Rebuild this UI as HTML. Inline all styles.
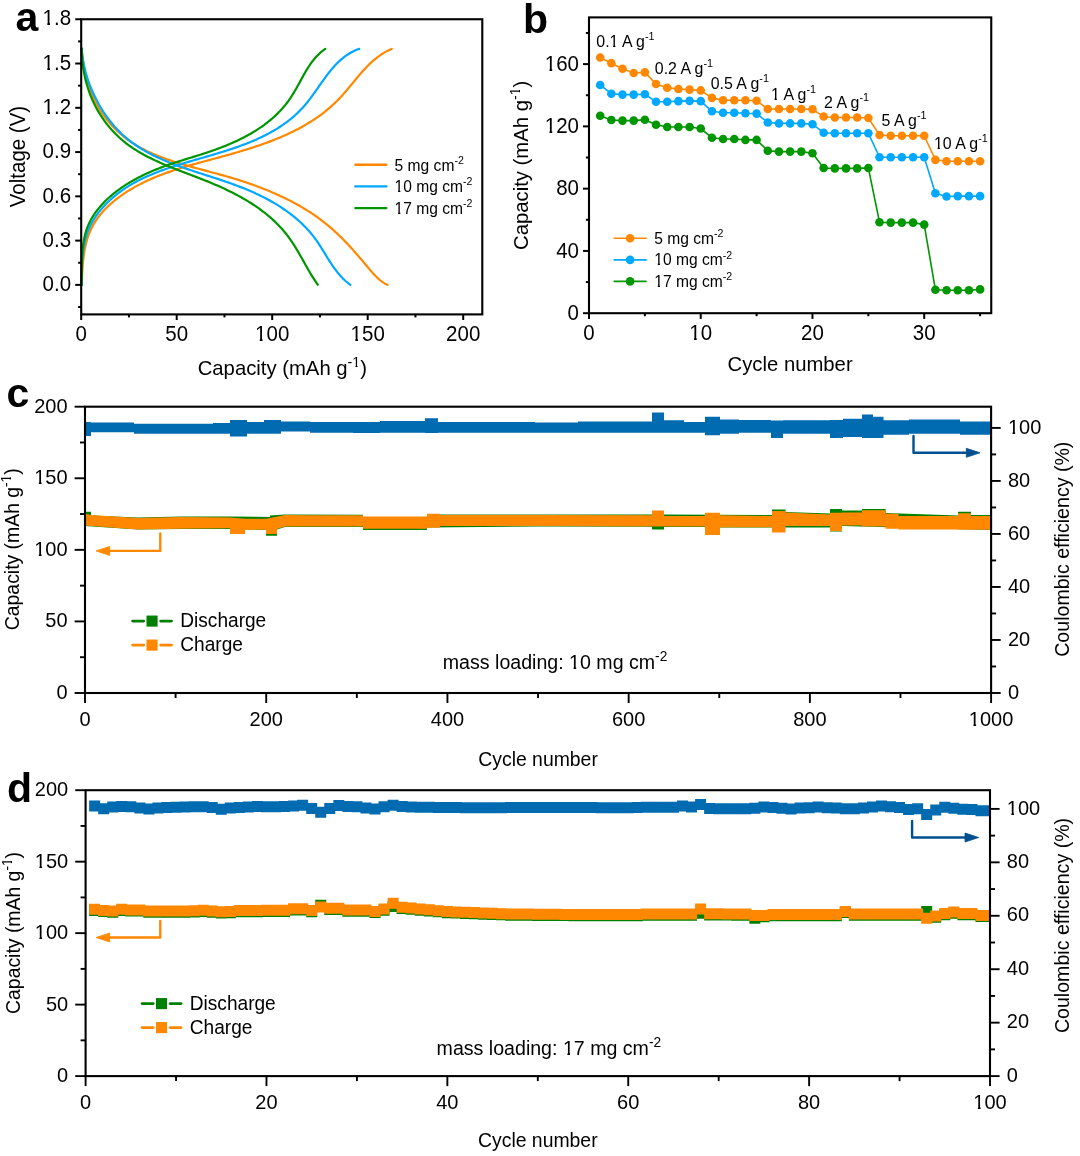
<!DOCTYPE html><html><head><meta charset="utf-8"><style>html,body{margin:0;padding:0;background:#fff;width:1080px;height:1156px;overflow:hidden}svg{display:block;will-change:transform}text{font-family:'Liberation Sans', sans-serif;fill:#000}</style></head><body>
<svg width="1080" height="1156" viewBox="0 0 1080 1156">
<rect width="1080" height="1156" fill="#fff"/>
<g id="pa">
<path d="M81.7 48.5 L81.88 50.61 L82.08 52.72 L82.3 54.82 L82.54 56.92 L82.81 59.01 L83.1 61.09 L83.41 63.17 L83.74 65.23 L84.1 67.29 L84.48 69.33 L84.89 71.37 L85.33 73.4 L85.8 75.41 L86.29 77.42 L86.81 79.41 L87.36 81.39 L87.94 83.35 L88.55 85.31 L89.19 87.24 L89.86 89.17 L90.57 91.08 L91.3 92.97 L92.08 94.85 L92.88 96.71 L93.72 98.56 L94.6 100.39 L95.51 102.2 L96.46 103.99 L97.44 105.76 L98.46 107.51 L99.51 109.25 L100.6 110.96 L101.72 112.65 L102.87 114.33 L104.05 115.98 L105.27 117.6 L106.51 119.21 L107.79 120.79 L109.1 122.35 L110.43 123.89 L111.8 125.4 L113.19 126.88 L114.61 128.34 L116.06 129.77 L117.54 131.18 L119.04 132.56 L120.57 133.91 L122.12 135.24 L123.7 136.53 L125.31 137.8 L126.94 139.04 L128.59 140.24 L130.26 141.42 L131.96 142.57 L133.68 143.68 L135.42 144.77 L137.18 145.83 L138.96 146.86 L140.75 147.86 L142.57 148.84 L144.4 149.79 L146.25 150.71 L148.12 151.62 L150 152.49 L151.89 153.35 L153.8 154.18 L155.72 155 L157.65 155.79 L159.59 156.56 L161.54 157.32 L163.51 158.05 L165.48 158.77 L167.46 159.47 L169.44 160.16 L171.44 160.83 L173.43 161.48 L175.44 162.13 L177.45 162.76 L179.46 163.38 L181.47 163.98 L183.48 164.58 L185.5 165.16 L187.52 165.74 L189.53 166.31 L191.55 166.87 L193.56 167.42 L195.57 167.97 L197.58 168.51 L199.58 169.05 L201.58 169.59 L203.57 170.12 L205.55 170.65 L207.53 171.17 L209.5 171.7 L211.46 172.23 L213.42 172.75 L215.38 173.28 L217.33 173.81 L219.28 174.35 L221.22 174.88 L223.16 175.42 L225.1 175.97 L227.03 176.52 L228.97 177.08 L230.91 177.65 L232.84 178.23 L234.78 178.81 L236.71 179.4 L238.65 180.01 L240.59 180.62 L242.54 181.25 L244.49 181.89 L246.43 182.54 L248.39 183.21 L250.34 183.88 L252.29 184.57 L254.24 185.27 L256.19 185.99 L258.15 186.71 L260.1 187.45 L262.04 188.21 L263.99 188.97 L265.93 189.75 L267.87 190.54 L269.81 191.35 L271.74 192.17 L273.67 193 L275.59 193.84 L277.51 194.7 L279.42 195.57 L281.32 196.46 L283.22 197.36 L285.11 198.27 L286.99 199.2 L288.87 200.14 L290.73 201.09 L292.59 202.06 L294.43 203.05 L296.26 204.04 L298.09 205.06 L299.9 206.08 L301.7 207.12 L303.49 208.18 L305.26 209.25 L307.02 210.34 L308.77 211.44 L310.5 212.55 L312.22 213.68 L313.93 214.83 L315.61 215.99 L317.29 217.16 L318.94 218.35 L320.58 219.56 L322.2 220.78 L323.8 222.02 L325.38 223.27 L326.95 224.54 L328.49 225.82 L330.03 227.12 L331.54 228.43 L333.04 229.76 L334.53 231.11 L336 232.47 L337.46 233.84 L338.91 235.23 L340.35 236.63 L341.77 238.05 L343.19 239.48 L344.6 240.92 L346 242.38 L347.4 243.85 L348.78 245.34 L350.17 246.84 L351.54 248.35 L352.92 249.88 L354.29 251.41 L355.66 252.97 L357.02 254.53 L358.39 256.11 L359.76 257.7 L361.12 259.3 L362.49 260.91 L363.86 262.54 L365.24 264.18 L366.62 265.83 L368 267.49 L369.4 269.14 L370.8 270.78 L372.21 272.39 L373.64 273.97 L375.08 275.5 L376.55 276.98 L378.03 278.39 L379.54 279.73 L381.07 280.98 L382.63 282.13 L384.21 283.17 L385.83 284.1 L387.49 284.9" fill="none" stroke="#FF8800" stroke-width="2.2" stroke-linejoin="round" stroke-linecap="round"/>
<path d="M81.7 284.91 L81.7 282.74 L81.76 280.57 L81.89 278.41 L82.01 276.24 L82.13 274.08 L82.27 271.92 L82.41 269.77 L82.56 267.62 L82.72 265.48 L82.9 263.35 L83.1 261.22 L83.33 259.11 L83.58 257 L83.85 254.91 L84.16 252.83 L84.5 250.77 L84.87 248.72 L85.29 246.69 L85.74 244.67 L86.23 242.67 L86.77 240.69 L87.35 238.73 L87.98 236.79 L88.66 234.88 L89.39 232.98 L90.16 231.11 L91 229.27 L91.88 227.45 L92.82 225.66 L93.82 223.9 L94.88 222.16 L95.99 220.45 L97.14 218.77 L98.35 217.12 L99.61 215.5 L100.91 213.9 L102.26 212.33 L103.65 210.79 L105.08 209.27 L106.54 207.79 L108.05 206.33 L109.58 204.89 L111.16 203.49 L112.76 202.11 L114.39 200.76 L116.05 199.43 L117.73 198.13 L119.44 196.86 L121.16 195.62 L122.91 194.4 L124.68 193.21 L126.46 192.04 L128.26 190.91 L130.07 189.79 L131.88 188.71 L133.71 187.65 L135.55 186.62 L137.39 185.61 L139.25 184.63 L141.11 183.67 L142.98 182.73 L144.85 181.81 L146.74 180.92 L148.63 180.05 L150.52 179.2 L152.43 178.37 L154.34 177.55 L156.26 176.76 L158.19 175.98 L160.12 175.22 L162.06 174.48 L164 173.75 L165.95 173.04 L167.9 172.34 L169.87 171.66 L171.83 170.99 L173.8 170.33 L175.78 169.68 L177.76 169.05 L179.75 168.42 L181.74 167.81 L183.73 167.2 L185.73 166.6 L187.74 166.01 L189.74 165.43 L191.75 164.85 L193.77 164.28 L195.78 163.72 L197.81 163.16 L199.83 162.6 L201.86 162.05 L203.89 161.49 L205.92 160.95 L207.95 160.4 L209.99 159.85 L212.03 159.3 L214.07 158.75 L216.11 158.2 L218.15 157.65 L220.2 157.09 L222.25 156.54 L224.29 155.97 L226.34 155.41 L228.39 154.83 L230.44 154.26 L232.49 153.67 L234.53 153.09 L236.58 152.49 L238.63 151.89 L240.67 151.28 L242.71 150.67 L244.75 150.05 L246.79 149.42 L248.82 148.78 L250.85 148.13 L252.87 147.48 L254.9 146.81 L256.91 146.14 L258.93 145.46 L260.93 144.76 L262.94 144.06 L264.93 143.34 L266.92 142.61 L268.91 141.87 L270.89 141.12 L272.86 140.36 L274.82 139.58 L276.77 138.79 L278.72 137.99 L280.66 137.17 L282.59 136.34 L284.51 135.5 L286.42 134.64 L288.32 133.76 L290.21 132.87 L292.09 131.97 L293.96 131.04 L295.82 130.1 L297.67 129.15 L299.5 128.17 L301.32 127.18 L303.13 126.17 L304.93 125.15 L306.72 124.1 L308.49 123.04 L310.24 121.95 L311.99 120.85 L313.71 119.72 L315.43 118.58 L317.13 117.41 L318.81 116.23 L320.47 115.02 L322.12 113.79 L323.76 112.54 L325.38 111.27 L326.97 109.97 L328.56 108.65 L330.12 107.3 L331.67 105.94 L333.19 104.55 L334.7 103.13 L336.19 101.69 L337.66 100.22 L339.11 98.73 L340.54 97.21 L341.95 95.67 L343.35 94.11 L344.73 92.53 L346.1 90.94 L347.46 89.34 L348.82 87.72 L350.16 86.1 L351.51 84.47 L352.85 82.84 L354.19 81.21 L355.54 79.59 L356.89 77.97 L358.24 76.35 L359.61 74.75 L360.98 73.16 L362.37 71.59 L363.77 70.04 L365.18 68.5 L366.62 66.99 L368.07 65.51 L369.55 64.05 L371.05 62.63 L372.58 61.23 L374.14 59.88 L375.72 58.56 L377.34 57.29 L378.99 56.06 L380.68 54.87 L382.41 53.74 L384.18 52.65 L385.99 51.62 L387.84 50.65 L389.74 49.74 L391.69 48.89" fill="none" stroke="#FF8800" stroke-width="2.2" stroke-linejoin="round" stroke-linecap="round"/>
<path d="M81.71 48.5 L81.82 50.31 L81.97 52.13 L82.15 53.95 L82.36 55.78 L82.61 57.62 L82.88 59.46 L83.19 61.31 L83.53 63.15 L83.89 65 L84.29 66.86 L84.72 68.71 L85.18 70.56 L85.67 72.41 L86.18 74.26 L86.73 76.11 L87.3 77.96 L87.9 79.8 L88.53 81.64 L89.19 83.47 L89.87 85.3 L90.59 87.12 L91.32 88.93 L92.09 90.73 L92.88 92.53 L93.69 94.32 L94.53 96.09 L95.4 97.86 L96.29 99.61 L97.2 101.35 L98.14 103.08 L99.1 104.79 L100.09 106.49 L101.1 108.17 L102.13 109.84 L103.18 111.49 L104.26 113.12 L105.36 114.73 L106.47 116.33 L107.61 117.9 L108.78 119.45 L109.96 120.99 L111.16 122.5 L112.38 123.98 L113.62 125.44 L114.88 126.88 L116.16 128.29 L117.46 129.68 L118.78 131.04 L120.11 132.37 L121.47 133.68 L122.84 134.95 L124.22 136.2 L125.63 137.42 L127.05 138.62 L128.48 139.79 L129.93 140.93 L131.4 142.05 L132.88 143.14 L134.38 144.21 L135.89 145.26 L137.42 146.28 L138.96 147.29 L140.52 148.27 L142.08 149.23 L143.66 150.17 L145.26 151.09 L146.86 151.99 L148.48 152.87 L150.11 153.74 L151.75 154.59 L153.4 155.42 L155.06 156.23 L156.73 157.03 L158.42 157.81 L160.11 158.58 L161.81 159.34 L163.52 160.08 L165.24 160.81 L166.97 161.52 L168.71 162.23 L170.46 162.92 L172.21 163.6 L173.97 164.28 L175.74 164.94 L177.51 165.6 L179.29 166.24 L181.08 166.88 L182.87 167.51 L184.66 168.14 L186.47 168.76 L188.27 169.37 L190.09 169.98 L191.9 170.58 L193.72 171.18 L195.54 171.78 L197.37 172.37 L199.2 172.97 L201.03 173.56 L202.87 174.15 L204.7 174.74 L206.54 175.33 L208.38 175.92 L210.22 176.51 L212.06 177.11 L213.9 177.71 L215.74 178.31 L217.58 178.91 L219.42 179.52 L221.26 180.13 L223.1 180.75 L224.94 181.37 L226.77 182 L228.61 182.64 L230.44 183.29 L232.26 183.94 L234.09 184.6 L235.91 185.28 L237.73 185.96 L239.54 186.65 L241.35 187.36 L243.15 188.07 L244.95 188.8 L246.75 189.54 L248.54 190.29 L250.32 191.05 L252.09 191.83 L253.86 192.62 L255.62 193.42 L257.37 194.24 L259.12 195.07 L260.85 195.91 L262.58 196.77 L264.29 197.64 L266 198.52 L267.69 199.42 L269.38 200.34 L271.05 201.27 L272.71 202.21 L274.36 203.17 L276 204.15 L277.63 205.14 L279.24 206.14 L280.84 207.17 L282.42 208.21 L283.99 209.26 L285.54 210.34 L287.08 211.43 L288.6 212.53 L290.11 213.66 L291.6 214.8 L293.07 215.96 L294.53 217.14 L295.96 218.34 L297.38 219.55 L298.78 220.78 L300.17 222.04 L301.53 223.31 L302.87 224.6 L304.19 225.91 L305.49 227.24 L306.77 228.59 L308.03 229.96 L309.27 231.35 L310.48 232.76 L311.68 234.19 L312.84 235.65 L313.99 237.12 L315.11 238.62 L316.21 240.13 L317.28 241.67 L318.33 243.22 L319.37 244.79 L320.39 246.38 L321.4 247.97 L322.41 249.57 L323.4 251.18 L324.39 252.79 L325.38 254.41 L326.37 256.02 L327.36 257.64 L328.36 259.24 L329.37 260.84 L330.39 262.44 L331.42 264.02 L332.47 265.58 L333.54 267.13 L334.63 268.66 L335.75 270.18 L336.89 271.66 L338.07 273.13 L339.27 274.57 L340.51 275.97 L341.79 277.35 L343.11 278.69 L344.47 280 L345.87 281.27 L347.33 282.5 L348.83 283.68 L350.39 284.82" fill="none" stroke="#00A8FF" stroke-width="2.2" stroke-linejoin="round" stroke-linecap="round"/>
<path d="M81.7 284.91 L81.7 282.86 L81.7 280.81 L81.7 278.77 L81.7 276.73 L81.7 274.69 L81.75 272.66 L81.79 270.64 L81.85 268.62 L81.92 266.61 L82 264.6 L82.09 262.6 L82.21 260.61 L82.34 258.63 L82.5 256.66 L82.68 254.7 L82.89 252.75 L83.13 250.81 L83.41 248.88 L83.71 246.96 L84.06 245.06 L84.44 243.17 L84.86 241.29 L85.32 239.42 L85.82 237.57 L86.37 235.74 L86.96 233.92 L87.6 232.12 L88.28 230.33 L89.01 228.56 L89.8 226.81 L90.63 225.08 L91.52 223.37 L92.46 221.67 L93.45 220 L94.48 218.35 L95.55 216.72 L96.67 215.1 L97.83 213.52 L99.03 211.95 L100.26 210.41 L101.54 208.89 L102.84 207.39 L104.18 205.92 L105.54 204.48 L106.93 203.06 L108.36 201.67 L109.8 200.3 L111.27 198.97 L112.76 197.66 L114.26 196.38 L115.79 195.12 L117.33 193.9 L118.88 192.71 L120.45 191.54 L122.04 190.41 L123.64 189.29 L125.25 188.21 L126.88 187.15 L128.53 186.12 L130.18 185.11 L131.85 184.12 L133.53 183.16 L135.22 182.22 L136.93 181.3 L138.64 180.4 L140.37 179.53 L142.11 178.67 L143.86 177.83 L145.62 177.02 L147.39 176.21 L149.17 175.43 L150.96 174.67 L152.76 173.92 L154.57 173.18 L156.38 172.46 L158.21 171.76 L160.04 171.06 L161.88 170.38 L163.73 169.72 L165.58 169.06 L167.45 168.42 L169.31 167.79 L171.19 167.16 L173.07 166.55 L174.95 165.94 L176.84 165.34 L178.74 164.75 L180.64 164.17 L182.54 163.59 L184.45 163.02 L186.36 162.45 L188.27 161.89 L190.19 161.33 L192.11 160.77 L194.03 160.21 L195.96 159.66 L197.88 159.11 L199.81 158.55 L201.74 158 L203.67 157.45 L205.6 156.89 L207.53 156.33 L209.46 155.77 L211.39 155.21 L213.32 154.64 L215.24 154.07 L217.17 153.49 L219.09 152.91 L221.01 152.32 L222.93 151.72 L224.85 151.12 L226.76 150.51 L228.67 149.9 L230.57 149.27 L232.47 148.64 L234.36 147.99 L236.25 147.34 L238.13 146.68 L240 146 L241.87 145.32 L243.73 144.62 L245.58 143.91 L247.43 143.19 L249.26 142.46 L251.09 141.71 L252.91 140.95 L254.72 140.18 L256.52 139.39 L258.3 138.58 L260.08 137.76 L261.85 136.92 L263.6 136.07 L265.34 135.2 L267.07 134.31 L268.79 133.4 L270.49 132.47 L272.18 131.53 L273.85 130.57 L275.52 129.58 L277.16 128.58 L278.79 127.55 L280.41 126.51 L282.01 125.44 L283.59 124.35 L285.15 123.23 L286.7 122.1 L288.23 120.94 L289.74 119.75 L291.24 118.54 L292.71 117.31 L294.17 116.05 L295.6 114.76 L297.02 113.45 L298.41 112.11 L299.78 110.74 L301.14 109.35 L302.47 107.92 L303.78 106.47 L305.06 104.99 L306.33 103.48 L307.57 101.94 L308.8 100.39 L310.01 98.81 L311.21 97.21 L312.4 95.6 L313.57 93.97 L314.74 92.34 L315.9 90.69 L317.06 89.04 L318.22 87.39 L319.37 85.74 L320.53 84.08 L321.69 82.43 L322.85 80.79 L324.03 79.16 L325.21 77.53 L326.4 75.92 L327.6 74.33 L328.82 72.76 L330.06 71.2 L331.31 69.67 L332.59 68.17 L333.88 66.69 L335.2 65.25 L336.55 63.83 L337.92 62.46 L339.33 61.12 L340.76 59.82 L342.23 58.56 L343.74 57.35 L345.28 56.19 L346.86 55.08 L348.49 54.01 L350.15 53.01 L351.86 52.06 L353.62 51.17 L355.43 50.35 L357.29 49.59 L359.2 48.89" fill="none" stroke="#00A8FF" stroke-width="2.2" stroke-linejoin="round" stroke-linecap="round"/>
<path d="M81.7 48.5 L81.73 50.27 L81.78 52.05 L81.85 53.83 L81.94 55.61 L82.05 57.39 L82.19 59.17 L82.35 60.95 L82.54 62.73 L82.75 64.5 L82.98 66.28 L83.23 68.06 L83.51 69.83 L83.82 71.6 L84.14 73.36 L84.49 75.12 L84.87 76.88 L85.27 78.63 L85.69 80.38 L86.14 82.12 L86.62 83.85 L87.11 85.58 L87.64 87.3 L88.19 89.01 L88.76 90.72 L89.36 92.41 L89.98 94.1 L90.64 95.77 L91.31 97.44 L92.01 99.09 L92.74 100.74 L93.5 102.37 L94.28 103.99 L95.08 105.6 L95.92 107.19 L96.77 108.77 L97.65 110.34 L98.55 111.89 L99.48 113.42 L100.43 114.94 L101.41 116.45 L102.4 117.94 L103.42 119.41 L104.46 120.86 L105.52 122.3 L106.6 123.72 L107.7 125.12 L108.83 126.5 L109.97 127.86 L111.13 129.19 L112.32 130.51 L113.52 131.81 L114.74 133.09 L115.97 134.34 L117.23 135.57 L118.5 136.78 L119.79 137.96 L121.1 139.12 L122.42 140.26 L123.76 141.37 L125.12 142.46 L126.49 143.53 L127.87 144.57 L129.27 145.6 L130.68 146.61 L132.11 147.59 L133.55 148.56 L135.01 149.5 L136.47 150.43 L137.95 151.34 L139.45 152.24 L140.95 153.12 L142.47 153.98 L143.99 154.82 L145.53 155.66 L147.08 156.47 L148.64 157.28 L150.2 158.07 L151.78 158.84 L153.37 159.61 L154.96 160.37 L156.56 161.11 L158.17 161.84 L159.79 162.57 L161.42 163.28 L163.05 163.99 L164.69 164.68 L166.34 165.37 L167.99 166.06 L169.65 166.73 L171.31 167.4 L172.97 168.07 L174.65 168.73 L176.32 169.39 L178 170.04 L179.68 170.69 L181.37 171.34 L183.06 171.99 L184.75 172.63 L186.44 173.27 L188.14 173.92 L189.83 174.56 L191.53 175.21 L193.23 175.85 L194.93 176.5 L196.62 177.15 L198.32 177.8 L200.02 178.46 L201.72 179.12 L203.41 179.79 L205.1 180.46 L206.79 181.14 L208.48 181.83 L210.16 182.52 L211.85 183.22 L213.52 183.92 L215.2 184.64 L216.87 185.36 L218.54 186.09 L220.2 186.83 L221.85 187.58 L223.5 188.34 L225.15 189.11 L226.79 189.89 L228.42 190.67 L230.04 191.47 L231.66 192.28 L233.27 193.09 L234.87 193.92 L236.47 194.76 L238.06 195.6 L239.63 196.46 L241.2 197.33 L242.76 198.21 L244.31 199.11 L245.85 200.01 L247.38 200.93 L248.9 201.85 L250.41 202.8 L251.91 203.75 L253.39 204.71 L254.87 205.69 L256.33 206.68 L257.78 207.69 L259.21 208.71 L260.64 209.74 L262.04 210.79 L263.44 211.85 L264.82 212.92 L266.19 214.01 L267.54 215.11 L268.88 216.23 L270.2 217.36 L271.5 218.51 L272.79 219.67 L274.07 220.85 L275.32 222.04 L276.56 223.26 L277.78 224.48 L278.99 225.72 L280.18 226.98 L281.34 228.26 L282.49 229.55 L283.62 230.86 L284.73 232.19 L285.83 233.53 L286.9 234.9 L287.95 236.28 L288.98 237.67 L289.99 239.09 L290.99 240.52 L291.97 241.96 L292.94 243.42 L293.89 244.89 L294.83 246.37 L295.75 247.86 L296.67 249.37 L297.57 250.88 L298.47 252.4 L299.36 253.93 L300.24 255.46 L301.12 257 L301.99 258.55 L302.86 260.1 L303.73 261.65 L304.6 263.21 L305.47 264.76 L306.35 266.32 L307.23 267.88 L308.12 269.43 L309.02 270.99 L309.93 272.54 L310.85 274.08 L311.78 275.62 L312.73 277.16 L313.7 278.69 L314.69 280.21 L315.7 281.73 L316.73 283.23 L317.78 284.72" fill="none" stroke="#009600" stroke-width="2.2" stroke-linejoin="round" stroke-linecap="round"/>
<path d="M81.7 284.9 L81.7 283.08 L81.7 281.24 L81.7 279.39 L81.74 277.54 L81.77 275.68 L81.8 273.81 L81.82 271.93 L81.83 270.06 L81.85 268.18 L81.87 266.29 L81.9 264.41 L81.93 262.52 L81.97 260.64 L82.03 258.75 L82.1 256.87 L82.2 255 L82.31 253.13 L82.44 251.26 L82.6 249.4 L82.79 247.55 L83 245.71 L83.25 243.88 L83.53 242.05 L83.85 240.24 L84.2 238.45 L84.59 236.66 L85.01 234.9 L85.48 233.14 L85.99 231.41 L86.55 229.69 L87.15 227.99 L87.8 226.31 L88.5 224.66 L89.25 223.02 L90.05 221.4 L90.89 219.81 L91.78 218.24 L92.71 216.69 L93.68 215.16 L94.69 213.65 L95.74 212.17 L96.82 210.7 L97.94 209.26 L99.1 207.84 L100.28 206.45 L101.5 205.07 L102.74 203.72 L104.01 202.39 L105.31 201.09 L106.63 199.8 L107.97 198.54 L109.33 197.3 L110.71 196.09 L112.11 194.89 L113.53 193.72 L114.96 192.58 L116.4 191.45 L117.86 190.35 L119.33 189.27 L120.82 188.21 L122.32 187.17 L123.83 186.16 L125.35 185.16 L126.89 184.18 L128.44 183.22 L130 182.28 L131.57 181.35 L133.16 180.44 L134.75 179.55 L136.36 178.68 L137.97 177.82 L139.6 176.98 L141.23 176.16 L142.88 175.34 L144.53 174.55 L146.19 173.77 L147.86 173 L149.54 172.25 L151.23 171.51 L152.92 170.79 L154.62 170.08 L156.33 169.38 L158.04 168.69 L159.77 168.02 L161.49 167.36 L163.22 166.71 L164.96 166.08 L166.71 165.45 L168.45 164.84 L170.21 164.23 L171.96 163.64 L173.72 163.05 L175.49 162.47 L177.26 161.9 L179.03 161.33 L180.8 160.77 L182.58 160.21 L184.35 159.66 L186.13 159.1 L187.91 158.55 L189.7 158 L191.48 157.45 L193.26 156.9 L195.05 156.35 L196.83 155.8 L198.61 155.24 L200.4 154.68 L202.18 154.11 L203.96 153.53 L205.74 152.95 L207.52 152.36 L209.29 151.77 L211.07 151.16 L212.84 150.54 L214.6 149.92 L216.37 149.28 L218.12 148.63 L219.88 147.97 L221.63 147.3 L223.37 146.62 L225.11 145.93 L226.84 145.22 L228.57 144.51 L230.29 143.78 L232 143.03 L233.7 142.27 L235.4 141.5 L237.08 140.72 L238.76 139.92 L240.43 139.11 L242.08 138.28 L243.73 137.44 L245.37 136.59 L246.99 135.71 L248.6 134.83 L250.2 133.92 L251.79 133 L253.36 132.06 L254.92 131.11 L256.47 130.14 L258 129.15 L259.52 128.15 L261.03 127.13 L262.51 126.08 L263.98 125.03 L265.44 123.95 L266.88 122.85 L268.3 121.73 L269.7 120.6 L271.08 119.44 L272.45 118.27 L273.79 117.07 L275.12 115.85 L276.43 114.62 L277.72 113.36 L278.98 112.08 L280.23 110.78 L281.45 109.45 L282.65 108.11 L283.83 106.74 L284.99 105.35 L286.12 103.94 L287.23 102.5 L288.31 101.04 L289.37 99.55 L290.41 98.04 L291.42 96.51 L292.4 94.96 L293.37 93.39 L294.32 91.8 L295.26 90.19 L296.18 88.58 L297.1 86.95 L298 85.32 L298.9 83.68 L299.8 82.04 L300.7 80.4 L301.59 78.76 L302.5 77.12 L303.41 75.49 L304.33 73.87 L305.26 72.26 L306.21 70.67 L307.17 69.09 L308.15 67.53 L309.16 65.99 L310.18 64.47 L311.24 62.98 L312.32 61.51 L313.44 60.07 L314.59 58.67 L315.77 57.3 L317 55.97 L318.26 54.68 L319.57 53.43 L320.93 52.22 L322.33 51.06 L323.78 49.95 L325.29 48.89" fill="none" stroke="#009600" stroke-width="2.2" stroke-linejoin="round" stroke-linecap="round"/>
<rect x="81.2" y="19.25" width="401.1" height="295.15" fill="none" stroke="#000" stroke-width="2.1"/>
<line x1="81.2" y1="314.4" x2="81.2" y2="320" stroke="#000" stroke-width="2" stroke-linecap="butt"/>
<g transform="translate(81.2 340.6) scale(1 1.04)"><text font-size="20.5" text-anchor="middle">0</text></g>
<line x1="128.95" y1="314.4" x2="128.95" y2="317.4" stroke="#000" stroke-width="2" stroke-linecap="butt"/>
<line x1="176.7" y1="314.4" x2="176.7" y2="320" stroke="#000" stroke-width="2" stroke-linecap="butt"/>
<g transform="translate(176.7 340.6) scale(1 1.04)"><text font-size="20.5" text-anchor="middle">50</text></g>
<line x1="224.45" y1="314.4" x2="224.45" y2="317.4" stroke="#000" stroke-width="2" stroke-linecap="butt"/>
<line x1="272.2" y1="314.4" x2="272.2" y2="320" stroke="#000" stroke-width="2" stroke-linecap="butt"/>
<g transform="translate(272.2 340.6) scale(1 1.04)"><text font-size="20.5" text-anchor="middle">100</text><g fill="#fff"><rect x="-16.4" y="-2.53" width="4" height="3.23"/><rect x="-9.68" y="-2.53" width="3.94" height="3.23"/></g></g>
<line x1="319.95" y1="314.4" x2="319.95" y2="317.4" stroke="#000" stroke-width="2" stroke-linecap="butt"/>
<line x1="367.7" y1="314.4" x2="367.7" y2="320" stroke="#000" stroke-width="2" stroke-linecap="butt"/>
<g transform="translate(367.7 340.6) scale(1 1.04)"><text font-size="20.5" text-anchor="middle">150</text><g fill="#fff"><rect x="-16.4" y="-2.53" width="4" height="3.23"/><rect x="-9.68" y="-2.53" width="3.94" height="3.23"/></g></g>
<line x1="415.45" y1="314.4" x2="415.45" y2="317.4" stroke="#000" stroke-width="2" stroke-linecap="butt"/>
<line x1="463.2" y1="314.4" x2="463.2" y2="320" stroke="#000" stroke-width="2" stroke-linecap="butt"/>
<g transform="translate(463.2 340.6) scale(1 1.04)"><text font-size="20.5" text-anchor="middle">200</text></g>
<line x1="81.2" y1="307.02" x2="78.1" y2="307.02" stroke="#000" stroke-width="2" stroke-linecap="butt"/>
<line x1="81.2" y1="284.88" x2="75.2" y2="284.88" stroke="#000" stroke-width="2" stroke-linecap="butt"/>
<g transform="translate(71.1 291.08) scale(1 1.04)"><text font-size="20.5" text-anchor="end">0.0</text></g>
<line x1="81.2" y1="262.75" x2="78.1" y2="262.75" stroke="#000" stroke-width="2" stroke-linecap="butt"/>
<line x1="81.2" y1="240.61" x2="75.2" y2="240.61" stroke="#000" stroke-width="2" stroke-linecap="butt"/>
<g transform="translate(71.1 246.81) scale(1 1.04)"><text font-size="20.5" text-anchor="end">0.3</text></g>
<line x1="81.2" y1="218.48" x2="78.1" y2="218.48" stroke="#000" stroke-width="2" stroke-linecap="butt"/>
<line x1="81.2" y1="196.34" x2="75.2" y2="196.34" stroke="#000" stroke-width="2" stroke-linecap="butt"/>
<g transform="translate(71.1 202.54) scale(1 1.04)"><text font-size="20.5" text-anchor="end">0.6</text></g>
<line x1="81.2" y1="174.2" x2="78.1" y2="174.2" stroke="#000" stroke-width="2" stroke-linecap="butt"/>
<line x1="81.2" y1="152.07" x2="75.2" y2="152.07" stroke="#000" stroke-width="2" stroke-linecap="butt"/>
<g transform="translate(71.1 158.27) scale(1 1.04)"><text font-size="20.5" text-anchor="end">0.9</text></g>
<line x1="81.2" y1="129.93" x2="78.1" y2="129.93" stroke="#000" stroke-width="2" stroke-linecap="butt"/>
<line x1="81.2" y1="107.8" x2="75.2" y2="107.8" stroke="#000" stroke-width="2" stroke-linecap="butt"/>
<g transform="translate(71.1 114) scale(1 1.04)"><text font-size="20.5" text-anchor="end">1.2</text><g fill="#fff"><rect x="-27.8" y="-2.53" width="4" height="3.23"/><rect x="-21.09" y="-2.53" width="3.94" height="3.23"/></g></g>
<line x1="81.2" y1="85.66" x2="78.1" y2="85.66" stroke="#000" stroke-width="2" stroke-linecap="butt"/>
<line x1="81.2" y1="63.52" x2="75.2" y2="63.52" stroke="#000" stroke-width="2" stroke-linecap="butt"/>
<g transform="translate(71.1 69.72) scale(1 1.04)"><text font-size="20.5" text-anchor="end">1.5</text><g fill="#fff"><rect x="-27.8" y="-2.53" width="4" height="3.23"/><rect x="-21.09" y="-2.53" width="3.94" height="3.23"/></g></g>
<line x1="81.2" y1="41.39" x2="78.1" y2="41.39" stroke="#000" stroke-width="2" stroke-linecap="butt"/>
<line x1="81.2" y1="19.25" x2="75.2" y2="19.25" stroke="#000" stroke-width="2" stroke-linecap="butt"/>
<g transform="translate(71.1 25.45) scale(1 1.04)"><text font-size="20.5" text-anchor="end">1.8</text><g fill="#fff"><rect x="-27.8" y="-2.53" width="4" height="3.23"/><rect x="-21.09" y="-2.53" width="3.94" height="3.23"/></g></g>
<g transform="translate(24.9 156.5) rotate(-90) scale(1 1.04)"><text font-size="20.5" text-anchor="middle">Voltage (V)</text></g>
<g transform="translate(197.7 374.6) scale(1 1.04)"><text font-size="20.3" text-anchor="start">Capacity (mAh g<tspan font-size="14.2" dy="-7.6">-1</tspan><tspan dy="7.6">)</tspan></text><g fill="#fff"><rect x="154.88" y="-9.66" width="2.85" height="2.76"/><rect x="159.89" y="-9.66" width="2.82" height="2.76"/></g></g>
<g transform="translate(15.4 30.6) scale(1 1)"><text font-size="41" text-anchor="start" font-weight="bold">a</text></g>
<line x1="355.4" y1="164.7" x2="386.3" y2="164.7" stroke="#FF8800" stroke-width="2.4" stroke-linecap="round"/>
<g transform="translate(394.6 170.6) scale(1 1.04)"><text font-size="15.6" text-anchor="start">5 mg cm<tspan font-size="10.6" dy="-6.6">-2</tspan></text></g>
<line x1="355.4" y1="186.4" x2="386.3" y2="186.4" stroke="#00A8FF" stroke-width="2.4" stroke-linecap="round"/>
<g transform="translate(394.6 192.3) scale(1 1.04)"><text font-size="15.6" text-anchor="start">10 mg cm<tspan font-size="10.6" dy="-6.6">-2</tspan></text><g fill="#fff"><rect x="0.37" y="-2.17" width="3.11" height="2.87"/><rect x="5.75" y="-2.17" width="3.07" height="2.87"/></g></g>
<line x1="355.4" y1="208.1" x2="386.3" y2="208.1" stroke="#009600" stroke-width="2.4" stroke-linecap="round"/>
<g transform="translate(394.6 214) scale(1 1.04)"><text font-size="15.6" text-anchor="start">17 mg cm<tspan font-size="10.6" dy="-6.6">-2</tspan></text><g fill="#fff"><rect x="0.37" y="-2.17" width="3.11" height="2.87"/><rect x="5.75" y="-2.17" width="3.07" height="2.87"/></g></g>
</g>
<g id="pb">
<polyline points="600.17,115.79 611.35,120 622.52,120.62 633.69,120.62 644.87,119.68 656.04,124.82 667.22,127 678.39,127 689.56,127 700.74,128.56 711.91,137.74 723.08,138.99 734.26,138.99 745.43,139.92 756.6,139.92 767.78,150.82 778.95,151.6 790.12,151.6 801.3,151.6 812.47,153.31 823.65,167.95 834.82,168.41 845.99,168.41 857.17,168.41 868.34,167.95 879.51,222.28 890.69,222.59 901.86,222.59 913.03,222.59 924.21,224.62 935.38,289.69 946.56,290.31 957.73,290.31 968.9,290.31 980.08,289.38" fill="none" stroke="#009600" stroke-width="1.6"/>
<g fill="#009600"><circle cx="600.17" cy="115.79" r="4.3"/><circle cx="611.35" cy="120" r="4.3"/><circle cx="622.52" cy="120.62" r="4.3"/><circle cx="633.69" cy="120.62" r="4.3"/><circle cx="644.87" cy="119.68" r="4.3"/><circle cx="656.04" cy="124.82" r="4.3"/><circle cx="667.22" cy="127" r="4.3"/><circle cx="678.39" cy="127" r="4.3"/><circle cx="689.56" cy="127" r="4.3"/><circle cx="700.74" cy="128.56" r="4.3"/><circle cx="711.91" cy="137.74" r="4.3"/><circle cx="723.08" cy="138.99" r="4.3"/><circle cx="734.26" cy="138.99" r="4.3"/><circle cx="745.43" cy="139.92" r="4.3"/><circle cx="756.6" cy="139.92" r="4.3"/><circle cx="767.78" cy="150.82" r="4.3"/><circle cx="778.95" cy="151.6" r="4.3"/><circle cx="790.12" cy="151.6" r="4.3"/><circle cx="801.3" cy="151.6" r="4.3"/><circle cx="812.47" cy="153.31" r="4.3"/><circle cx="823.65" cy="167.95" r="4.3"/><circle cx="834.82" cy="168.41" r="4.3"/><circle cx="845.99" cy="168.41" r="4.3"/><circle cx="857.17" cy="168.41" r="4.3"/><circle cx="868.34" cy="167.95" r="4.3"/><circle cx="879.51" cy="222.28" r="4.3"/><circle cx="890.69" cy="222.59" r="4.3"/><circle cx="901.86" cy="222.59" r="4.3"/><circle cx="913.03" cy="222.59" r="4.3"/><circle cx="924.21" cy="224.62" r="4.3"/><circle cx="935.38" cy="289.69" r="4.3"/><circle cx="946.56" cy="290.31" r="4.3"/><circle cx="957.73" cy="290.31" r="4.3"/><circle cx="968.9" cy="290.31" r="4.3"/><circle cx="980.08" cy="289.38" r="4.3"/></g>
<polyline points="600.17,84.97 611.35,93.69 622.52,94.62 633.69,94.62 644.87,94.31 656.04,101.78 667.22,101.78 678.39,101.16 689.56,100.85 700.74,101.16 711.91,111.28 723.08,112.68 734.26,112.68 745.43,113.3 756.6,113.61 767.78,122.49 778.95,123.42 790.12,123.42 801.3,123.42 812.47,124.2 823.65,132.76 834.82,133.23 845.99,133.23 857.17,133.23 868.34,133.23 879.51,157.2 890.69,157.2 901.86,157.2 913.03,157.2 924.21,157.2 935.38,193.32 946.56,196.44 957.73,196.13 968.9,196.13 980.08,196.13" fill="none" stroke="#00A8FF" stroke-width="1.6"/>
<g fill="#00A8FF"><circle cx="600.17" cy="84.97" r="4.3"/><circle cx="611.35" cy="93.69" r="4.3"/><circle cx="622.52" cy="94.62" r="4.3"/><circle cx="633.69" cy="94.62" r="4.3"/><circle cx="644.87" cy="94.31" r="4.3"/><circle cx="656.04" cy="101.78" r="4.3"/><circle cx="667.22" cy="101.78" r="4.3"/><circle cx="678.39" cy="101.16" r="4.3"/><circle cx="689.56" cy="100.85" r="4.3"/><circle cx="700.74" cy="101.16" r="4.3"/><circle cx="711.91" cy="111.28" r="4.3"/><circle cx="723.08" cy="112.68" r="4.3"/><circle cx="734.26" cy="112.68" r="4.3"/><circle cx="745.43" cy="113.3" r="4.3"/><circle cx="756.6" cy="113.61" r="4.3"/><circle cx="767.78" cy="122.49" r="4.3"/><circle cx="778.95" cy="123.42" r="4.3"/><circle cx="790.12" cy="123.42" r="4.3"/><circle cx="801.3" cy="123.42" r="4.3"/><circle cx="812.47" cy="124.2" r="4.3"/><circle cx="823.65" cy="132.76" r="4.3"/><circle cx="834.82" cy="133.23" r="4.3"/><circle cx="845.99" cy="133.23" r="4.3"/><circle cx="857.17" cy="133.23" r="4.3"/><circle cx="868.34" cy="133.23" r="4.3"/><circle cx="879.51" cy="157.2" r="4.3"/><circle cx="890.69" cy="157.2" r="4.3"/><circle cx="901.86" cy="157.2" r="4.3"/><circle cx="913.03" cy="157.2" r="4.3"/><circle cx="924.21" cy="157.2" r="4.3"/><circle cx="935.38" cy="193.32" r="4.3"/><circle cx="946.56" cy="196.44" r="4.3"/><circle cx="957.73" cy="196.13" r="4.3"/><circle cx="968.9" cy="196.13" r="4.3"/><circle cx="980.08" cy="196.13" r="4.3"/></g>
<polyline points="600.17,57.57 611.35,63.17 622.52,68.78 633.69,72.98 644.87,72.36 656.04,84.03 667.22,87.77 678.39,89.01 689.56,89.64 700.74,90.42 711.91,97.89 723.08,100.22 734.26,100.22 745.43,100.22 756.6,100.69 767.78,108.94 778.95,108.94 790.12,108.94 801.3,108.94 812.47,109.25 823.65,116.57 834.82,117.5 845.99,117.5 857.17,117.5 868.34,117.97 879.51,134.94 890.69,135.72 901.86,135.72 913.03,135.72 924.21,135.72 935.38,159.85 946.56,161.25 957.73,161.25 968.9,161.25 980.08,161.25" fill="none" stroke="#FF8800" stroke-width="1.6"/>
<g fill="#FF8800"><circle cx="600.17" cy="57.57" r="4.3"/><circle cx="611.35" cy="63.17" r="4.3"/><circle cx="622.52" cy="68.78" r="4.3"/><circle cx="633.69" cy="72.98" r="4.3"/><circle cx="644.87" cy="72.36" r="4.3"/><circle cx="656.04" cy="84.03" r="4.3"/><circle cx="667.22" cy="87.77" r="4.3"/><circle cx="678.39" cy="89.01" r="4.3"/><circle cx="689.56" cy="89.64" r="4.3"/><circle cx="700.74" cy="90.42" r="4.3"/><circle cx="711.91" cy="97.89" r="4.3"/><circle cx="723.08" cy="100.22" r="4.3"/><circle cx="734.26" cy="100.22" r="4.3"/><circle cx="745.43" cy="100.22" r="4.3"/><circle cx="756.6" cy="100.69" r="4.3"/><circle cx="767.78" cy="108.94" r="4.3"/><circle cx="778.95" cy="108.94" r="4.3"/><circle cx="790.12" cy="108.94" r="4.3"/><circle cx="801.3" cy="108.94" r="4.3"/><circle cx="812.47" cy="109.25" r="4.3"/><circle cx="823.65" cy="116.57" r="4.3"/><circle cx="834.82" cy="117.5" r="4.3"/><circle cx="845.99" cy="117.5" r="4.3"/><circle cx="857.17" cy="117.5" r="4.3"/><circle cx="868.34" cy="117.97" r="4.3"/><circle cx="879.51" cy="134.94" r="4.3"/><circle cx="890.69" cy="135.72" r="4.3"/><circle cx="901.86" cy="135.72" r="4.3"/><circle cx="913.03" cy="135.72" r="4.3"/><circle cx="924.21" cy="135.72" r="4.3"/><circle cx="935.38" cy="159.85" r="4.3"/><circle cx="946.56" cy="161.25" r="4.3"/><circle cx="957.73" cy="161.25" r="4.3"/><circle cx="968.9" cy="161.25" r="4.3"/><circle cx="980.08" cy="161.25" r="4.3"/></g>
<rect x="589" y="17.4" width="402.25" height="295.8" fill="none" stroke="#000" stroke-width="2.1"/>
<line x1="589" y1="313.2" x2="589" y2="318.9" stroke="#000" stroke-width="2" stroke-linecap="butt"/>
<g transform="translate(589 339.9) scale(1 1.04)"><text font-size="20.5" text-anchor="middle">0</text></g>
<line x1="644.87" y1="313.2" x2="644.87" y2="316.2" stroke="#000" stroke-width="2" stroke-linecap="butt"/>
<line x1="700.74" y1="313.2" x2="700.74" y2="318.9" stroke="#000" stroke-width="2" stroke-linecap="butt"/>
<g transform="translate(700.74 339.9) scale(1 1.04)"><text font-size="20.5" text-anchor="middle">10</text><g fill="#fff"><rect x="-10.7" y="-2.53" width="4" height="3.23"/><rect x="-3.99" y="-2.53" width="3.94" height="3.23"/></g></g>
<line x1="756.6" y1="313.2" x2="756.6" y2="316.2" stroke="#000" stroke-width="2" stroke-linecap="butt"/>
<line x1="812.47" y1="313.2" x2="812.47" y2="318.9" stroke="#000" stroke-width="2" stroke-linecap="butt"/>
<g transform="translate(812.47 339.9) scale(1 1.04)"><text font-size="20.5" text-anchor="middle">20</text></g>
<line x1="868.34" y1="313.2" x2="868.34" y2="316.2" stroke="#000" stroke-width="2" stroke-linecap="butt"/>
<line x1="924.21" y1="313.2" x2="924.21" y2="318.9" stroke="#000" stroke-width="2" stroke-linecap="butt"/>
<g transform="translate(924.21 339.9) scale(1 1.04)"><text font-size="20.5" text-anchor="middle">30</text></g>
<line x1="980.08" y1="313.2" x2="980.08" y2="316.2" stroke="#000" stroke-width="2" stroke-linecap="butt"/>
<line x1="589" y1="313.2" x2="583" y2="313.2" stroke="#000" stroke-width="2" stroke-linecap="butt"/>
<g transform="translate(579 320) scale(1 1.04)"><text font-size="20.5" text-anchor="end">0</text></g>
<line x1="589" y1="282.06" x2="585.9" y2="282.06" stroke="#000" stroke-width="2" stroke-linecap="butt"/>
<line x1="589" y1="250.93" x2="583" y2="250.93" stroke="#000" stroke-width="2" stroke-linecap="butt"/>
<g transform="translate(579 257.73) scale(1 1.04)"><text font-size="20.5" text-anchor="end">40</text></g>
<line x1="589" y1="219.79" x2="585.9" y2="219.79" stroke="#000" stroke-width="2" stroke-linecap="butt"/>
<line x1="589" y1="188.65" x2="583" y2="188.65" stroke="#000" stroke-width="2" stroke-linecap="butt"/>
<g transform="translate(579 195.45) scale(1 1.04)"><text font-size="20.5" text-anchor="end">80</text></g>
<line x1="589" y1="157.52" x2="585.9" y2="157.52" stroke="#000" stroke-width="2" stroke-linecap="butt"/>
<line x1="589" y1="126.38" x2="583" y2="126.38" stroke="#000" stroke-width="2" stroke-linecap="butt"/>
<g transform="translate(579 133.18) scale(1 1.04)"><text font-size="20.5" text-anchor="end">120</text><g fill="#fff"><rect x="-33.5" y="-2.53" width="4" height="3.23"/><rect x="-26.78" y="-2.53" width="3.94" height="3.23"/></g></g>
<line x1="589" y1="95.24" x2="585.9" y2="95.24" stroke="#000" stroke-width="2" stroke-linecap="butt"/>
<line x1="589" y1="64.11" x2="583" y2="64.11" stroke="#000" stroke-width="2" stroke-linecap="butt"/>
<g transform="translate(579 70.91) scale(1 1.04)"><text font-size="20.5" text-anchor="end">160</text><g fill="#fff"><rect x="-33.5" y="-2.53" width="4" height="3.23"/><rect x="-26.78" y="-2.53" width="3.94" height="3.23"/></g></g>
<line x1="589" y1="32.97" x2="585.9" y2="32.97" stroke="#000" stroke-width="2" stroke-linecap="butt"/>
<g transform="translate(528 165.3) rotate(-90) scale(1 1.04)"><text font-size="20.3" text-anchor="middle">Capacity (mAh g<tspan font-size="14.2" dy="-7.6">-1</tspan><tspan dy="7.6">)</tspan></text><g fill="#fff"><rect x="70.25" y="-9.66" width="2.85" height="2.76"/><rect x="75.25" y="-9.66" width="2.82" height="2.76"/></g></g>
<g transform="translate(790.1 371) scale(1 1.04)"><text font-size="20.3" text-anchor="middle">Cycle number</text></g>
<g transform="translate(523.1 32.8) scale(1 1)"><text font-size="41" text-anchor="start" font-weight="bold">b</text></g>
<g transform="translate(596.3 47.2) scale(1 1.04)"><text font-size="15.9" text-anchor="start">0.1 A g<tspan font-size="10.8" dy="-6.8">-1</tspan></text><g fill="#fff"><rect x="13.63" y="-2.19" width="3.16" height="2.89"/><rect x="19.1" y="-2.19" width="3.13" height="2.89"/></g></g>
<g transform="translate(654.8 74.3) scale(1 1.04)"><text font-size="15.9" text-anchor="start">0.2 A g<tspan font-size="10.8" dy="-6.8">-1</tspan></text></g>
<g transform="translate(710.7 89.1) scale(1 1.04)"><text font-size="15.9" text-anchor="start">0.5 A g<tspan font-size="10.8" dy="-6.8">-1</tspan></text></g>
<g transform="translate(771 99.7) scale(1 1.04)"><text font-size="15.9" text-anchor="start">1 A g<tspan font-size="10.8" dy="-6.8">-1</tspan></text><g fill="#fff"><rect x="0.39" y="-2.19" width="3.16" height="2.89"/><rect x="5.85" y="-2.19" width="3.13" height="2.89"/></g></g>
<g transform="translate(824 107.9) scale(1 1.04)"><text font-size="15.9" text-anchor="start">2 A g<tspan font-size="10.8" dy="-6.8">-1</tspan></text></g>
<g transform="translate(881.6 125.6) scale(1 1.04)"><text font-size="15.9" text-anchor="start">5 A g<tspan font-size="10.8" dy="-6.8">-1</tspan></text></g>
<g transform="translate(934 149) scale(1 1.04)"><text font-size="15.9" text-anchor="start">10 A g<tspan font-size="10.8" dy="-6.8">-1</tspan></text><g fill="#fff"><rect x="0.39" y="-2.19" width="3.16" height="2.89"/><rect x="5.85" y="-2.19" width="3.13" height="2.89"/></g></g>
<line x1="613.6" y1="238.3" x2="646.7" y2="238.3" stroke="#FF8800" stroke-width="1.6" stroke-linecap="butt"/>
<circle cx="630.1" cy="238.3" r="4.3" fill="#FF8800"/>
<g transform="translate(654.3 243.9) scale(1 1.04)"><text font-size="15.6" text-anchor="start">5 mg cm<tspan font-size="10.6" dy="-6.6">-2</tspan></text></g>
<line x1="613.6" y1="259.85" x2="646.7" y2="259.85" stroke="#00A8FF" stroke-width="1.6" stroke-linecap="butt"/>
<circle cx="630.1" cy="259.85" r="4.3" fill="#00A8FF"/>
<g transform="translate(654.3 265.45) scale(1 1.04)"><text font-size="15.6" text-anchor="start">10 mg cm<tspan font-size="10.6" dy="-6.6">-2</tspan></text><g fill="#fff"><rect x="0.37" y="-2.17" width="3.11" height="2.87"/><rect x="5.75" y="-2.17" width="3.07" height="2.87"/></g></g>
<line x1="613.6" y1="281.4" x2="646.7" y2="281.4" stroke="#009600" stroke-width="1.6" stroke-linecap="butt"/>
<circle cx="630.1" cy="281.4" r="4.3" fill="#009600"/>
<g transform="translate(654.3 287) scale(1 1.04)"><text font-size="15.6" text-anchor="start">17 mg cm<tspan font-size="10.6" dy="-6.6">-2</tspan></text><g fill="#fff"><rect x="0.37" y="-2.17" width="3.11" height="2.87"/><rect x="5.75" y="-2.17" width="3.07" height="2.87"/></g></g>
</g>
<g>
<path d="M85 422 L91 422 L91 422.5 L134 422.5 L134 423.7 L213 423.7 L213 423.1 L230 423.1 L230 419.9 L247 419.9 L247 422 L264 422 L264 419.9 L281 419.9 L281 421.6 L310 421.6 L310 422 L353 422 L353 422 L380 422 L380 421 L425 421 L425 418.2 L438 418.2 L438 422 L535 422 L535 422.5 L578 422.5 L578 421.6 L652 421.6 L652 412.5 L664 412.5 L664 420.3 L684 420.3 L684 422 L705 422 L705 416.7 L720 416.7 L720 419.5 L739 419.5 L739 420 L771 420 L771 420.5 L783 420.5 L783 420.3 L830 420.3 L830 420 L843 420 L843 418.8 L862 418.8 L862 414.6 L873 414.6 L873 416.7 L883.5 416.7 L883.5 420.3 L909 420.3 L909 419.5 L960 419.5 L960 421.6 L991 421.6 L991 434.8 L960 434.8 L960 433.7 L909 433.7 L909 434.8 L883.5 434.8 L883.5 438 L873 438 L873 438 L862 438 L862 437 L843 437 L843 438 L830 438 L830 433.7 L783 433.7 L783 438 L771 438 L771 432.7 L739 432.7 L739 433.7 L720 433.7 L720 435.2 L705 435.2 L705 432.7 L684 432.7 L684 432.7 L664 432.7 L664 432.7 L652 432.7 L652 432.7 L578 432.7 L578 432.7 L535 432.7 L535 432.7 L438 432.7 L438 433.1 L425 433.1 L425 432.7 L380 432.7 L380 432.9 L353 432.9 L353 432.7 L310 432.7 L310 431.6 L281 431.6 L281 433.7 L264 433.7 L264 433.7 L247 433.7 L247 436.5 L230 436.5 L230 433.7 L213 433.7 L213 433.7 L134 433.7 L134 432.3 L91 432.3 L91 435.9 L85 435.9 Z" fill="#006BB0"/>
<path d="M85 511.7 L91 511.7 L91 515.5 L138 517.5 L181 516.6 L230 516.6 L270 517 L270 515.5 L285 514.5 L363 514.8 L363 517.2 L427 517.2 L427 514.5 L540 514.5 L664 514.5 L772 515 L772 509.6 L785.5 509.6 L785.5 512 L830 513.5 L830 509 L842 509 L842 510.6 L862 510.6 L862 509 L885.6 509 L885.6 513 L958 515.5 L958 511.7 L971 511.7 L971 515 L991 515 L991 529.9 L842 526 L842 531.5 L830 531.5 L830 527.5 L711 527.5 L711 531 L705 531 L705 527 L664 527 L664 529.4 L652 529.4 L652 526.8 L540 526.5 L427 527.5 L427 530 L363 530 L363 527 L285 527 L277 529.5 L277 535.8 L266 535.8 L266 530 L230 529 L181 529 L138 529.6 L85 526 Z" fill="#008000"/>
<path d="M85 513.8 L91 514.9 L138 518.1 L181 517 L230 517.5 L245 518.7 L266 518.7 L270 518 L285 514.9 L310 515.3 L363 515.3 L363 516.6 L427 516.6 L427 513.8 L440 513.8 L440 514.9 L540 515 L652 515.3 L652 510.6 L664 510.6 L664 516 L705 516 L705 512.8 L720 512.8 L720 515.3 L772 516 L772 511 L785.5 511 L785.5 512.4 L830 514.5 L830 512.8 L842 512.8 L842 512.4 L862 512.4 L862 510.2 L885.6 510.2 L885.6 513.8 L898.4 513.8 L898.4 516 L958 516 L958 513.2 L971 513.2 L971 516 L991 516 L991 529.8 L958 529.8 L958 529.4 L898.4 529.4 L898.4 528.7 L885.6 528.7 L885.6 526.6 L862 526.6 L862 525.6 L842 525.6 L842 530.9 L830 530.9 L830 526 L785.5 526 L785.5 532.4 L772 532.4 L772 527.3 L720 527.3 L720 535.1 L705 535.1 L705 526.6 L652 526.6 L540 526 L440 526 L440 527.7 L427 527.7 L427 528.7 L363 528.7 L363 526.6 L285 526.6 L277 529 L277 534 L266 534 L266 529.8 L245 529.8 L245 534 L230 534 L230 528.3 L181 528.7 L138 529.4 L91 526 L85 525.6 Z" fill="#FF8800"/>
<rect x="85" y="406.7" width="906.1" height="286.3" fill="none" stroke="#000" stroke-width="2.1"/>
<line x1="85" y1="693" x2="85" y2="703" stroke="#000" stroke-width="1.9" stroke-linecap="butt"/>
<g transform="translate(85 726.3) scale(1 1.04)"><text font-size="20" text-anchor="middle">0</text></g>
<line x1="175.61" y1="693" x2="175.61" y2="698" stroke="#000" stroke-width="1.9" stroke-linecap="butt"/>
<line x1="266.22" y1="693" x2="266.22" y2="703" stroke="#000" stroke-width="1.9" stroke-linecap="butt"/>
<g transform="translate(266.22 726.3) scale(1 1.04)"><text font-size="20" text-anchor="middle">200</text></g>
<line x1="356.83" y1="693" x2="356.83" y2="698" stroke="#000" stroke-width="1.9" stroke-linecap="butt"/>
<line x1="447.44" y1="693" x2="447.44" y2="703" stroke="#000" stroke-width="1.9" stroke-linecap="butt"/>
<g transform="translate(447.44 726.3) scale(1 1.04)"><text font-size="20" text-anchor="middle">400</text></g>
<line x1="538.05" y1="693" x2="538.05" y2="698" stroke="#000" stroke-width="1.9" stroke-linecap="butt"/>
<line x1="628.66" y1="693" x2="628.66" y2="703" stroke="#000" stroke-width="1.9" stroke-linecap="butt"/>
<g transform="translate(628.66 726.3) scale(1 1.04)"><text font-size="20" text-anchor="middle">600</text></g>
<line x1="719.27" y1="693" x2="719.27" y2="698" stroke="#000" stroke-width="1.9" stroke-linecap="butt"/>
<line x1="809.88" y1="693" x2="809.88" y2="703" stroke="#000" stroke-width="1.9" stroke-linecap="butt"/>
<g transform="translate(809.88 726.3) scale(1 1.04)"><text font-size="20" text-anchor="middle">800</text></g>
<line x1="900.49" y1="693" x2="900.49" y2="698" stroke="#000" stroke-width="1.9" stroke-linecap="butt"/>
<line x1="991.1" y1="693" x2="991.1" y2="703" stroke="#000" stroke-width="1.9" stroke-linecap="butt"/>
<g transform="translate(991.1 726.3) scale(1 1.04)"><text font-size="20" text-anchor="middle">1000</text><g fill="#fff"><rect x="-21.57" y="-2.49" width="3.91" height="3.19"/><rect x="-14.99" y="-2.49" width="3.85" height="3.19"/></g></g>
<line x1="85" y1="693" x2="74.6" y2="693" stroke="#000" stroke-width="1.9" stroke-linecap="butt"/>
<g transform="translate(67.6 699) scale(1 1.04)"><text font-size="20" text-anchor="end">0</text></g>
<line x1="85" y1="657.21" x2="80" y2="657.21" stroke="#000" stroke-width="1.9" stroke-linecap="butt"/>
<line x1="85" y1="621.42" x2="74.6" y2="621.42" stroke="#000" stroke-width="1.9" stroke-linecap="butt"/>
<g transform="translate(67.6 627.42) scale(1 1.04)"><text font-size="20" text-anchor="end">50</text></g>
<line x1="85" y1="585.64" x2="80" y2="585.64" stroke="#000" stroke-width="1.9" stroke-linecap="butt"/>
<line x1="85" y1="549.85" x2="74.6" y2="549.85" stroke="#000" stroke-width="1.9" stroke-linecap="butt"/>
<g transform="translate(67.6 555.85) scale(1 1.04)"><text font-size="20" text-anchor="end">100</text><g fill="#fff"><rect x="-32.69" y="-2.49" width="3.91" height="3.19"/><rect x="-26.11" y="-2.49" width="3.85" height="3.19"/></g></g>
<line x1="85" y1="514.06" x2="80" y2="514.06" stroke="#000" stroke-width="1.9" stroke-linecap="butt"/>
<line x1="85" y1="478.27" x2="74.6" y2="478.27" stroke="#000" stroke-width="1.9" stroke-linecap="butt"/>
<g transform="translate(67.6 484.27) scale(1 1.04)"><text font-size="20" text-anchor="end">150</text><g fill="#fff"><rect x="-32.69" y="-2.49" width="3.91" height="3.19"/><rect x="-26.11" y="-2.49" width="3.85" height="3.19"/></g></g>
<line x1="85" y1="442.49" x2="80" y2="442.49" stroke="#000" stroke-width="1.9" stroke-linecap="butt"/>
<line x1="85" y1="406.7" x2="74.6" y2="406.7" stroke="#000" stroke-width="1.9" stroke-linecap="butt"/>
<g transform="translate(67.6 412.7) scale(1 1.04)"><text font-size="20" text-anchor="end">200</text></g>
<line x1="991.1" y1="693" x2="1000.7" y2="693" stroke="#000" stroke-width="1.9" stroke-linecap="butt"/>
<g transform="translate(1007.9 698.7) scale(1 1.04)"><text font-size="20" text-anchor="start">0</text></g>
<line x1="991.1" y1="666.49" x2="996.1" y2="666.49" stroke="#000" stroke-width="1.9" stroke-linecap="butt"/>
<line x1="991.1" y1="639.98" x2="1000.7" y2="639.98" stroke="#000" stroke-width="1.9" stroke-linecap="butt"/>
<g transform="translate(1007.9 645.68) scale(1 1.04)"><text font-size="20" text-anchor="start">20</text></g>
<line x1="991.1" y1="613.47" x2="996.1" y2="613.47" stroke="#000" stroke-width="1.9" stroke-linecap="butt"/>
<line x1="991.1" y1="586.96" x2="1000.7" y2="586.96" stroke="#000" stroke-width="1.9" stroke-linecap="butt"/>
<g transform="translate(1007.9 592.66) scale(1 1.04)"><text font-size="20" text-anchor="start">40</text></g>
<line x1="991.1" y1="560.45" x2="996.1" y2="560.45" stroke="#000" stroke-width="1.9" stroke-linecap="butt"/>
<line x1="991.1" y1="533.94" x2="1000.7" y2="533.94" stroke="#000" stroke-width="1.9" stroke-linecap="butt"/>
<g transform="translate(1007.9 539.64) scale(1 1.04)"><text font-size="20" text-anchor="start">60</text></g>
<line x1="991.1" y1="507.44" x2="996.1" y2="507.44" stroke="#000" stroke-width="1.9" stroke-linecap="butt"/>
<line x1="991.1" y1="480.93" x2="1000.7" y2="480.93" stroke="#000" stroke-width="1.9" stroke-linecap="butt"/>
<g transform="translate(1007.9 486.63) scale(1 1.04)"><text font-size="20" text-anchor="start">80</text></g>
<line x1="991.1" y1="454.42" x2="996.1" y2="454.42" stroke="#000" stroke-width="1.9" stroke-linecap="butt"/>
<line x1="991.1" y1="427.91" x2="1000.7" y2="427.91" stroke="#000" stroke-width="1.9" stroke-linecap="butt"/>
<g transform="translate(1007.9 433.61) scale(1 1.04)"><text font-size="20" text-anchor="start">100</text><g fill="#fff"><rect x="0.67" y="-2.49" width="3.91" height="3.19"/><rect x="7.25" y="-2.49" width="3.85" height="3.19"/></g></g>
<g transform="translate(19 549.3) rotate(-90) scale(1 1.04)"><text font-size="19.4" text-anchor="middle">Capacity (mAh g<tspan font-size="13.6" dy="-7.3">-1</tspan><tspan dy="7.3">)</tspan></text><g fill="#fff"><rect x="67.14" y="-9.32" width="2.74" height="2.72"/><rect x="71.98" y="-9.32" width="2.72" height="2.72"/></g></g>
<g transform="translate(1069 549.2) rotate(-90) scale(1 1.04)"><text font-size="19.6" text-anchor="middle">Coulombic efficiency (%)</text></g>
<g transform="translate(538.05 766.4) scale(1 1.04)"><text font-size="19.4" text-anchor="middle">Cycle number</text></g>
<g transform="translate(6.55 407) scale(1 1)"><text font-size="41" text-anchor="start" font-weight="bold">c</text></g>
<g transform="translate(442.8 668.7) scale(1 1.04)"><text font-size="19.6" text-anchor="start">mass loading: 10 mg cm<tspan font-size="13.7" dy="-7.4">-2</tspan></text><g fill="#fff"><rect x="126.93" y="-2.46" width="3.84" height="3.16"/><rect x="133.4" y="-2.46" width="3.78" height="3.16"/></g></g>
<line x1="132.6" y1="621.1" x2="143.7" y2="621.1" stroke="#008000" stroke-width="2.8" stroke-linecap="round"/>
<line x1="160.7" y1="621.1" x2="171.5" y2="621.1" stroke="#008000" stroke-width="2.8" stroke-linecap="round"/>
<rect x="146.5" y="615.55" width="11.1" height="11.1" fill="#008000"/>
<g transform="translate(180.3 627.2) scale(1 1.04)"><text font-size="19.1" text-anchor="start">Discharge</text></g>
<line x1="132.6" y1="645.1" x2="143.7" y2="645.1" stroke="#FF8800" stroke-width="2.8" stroke-linecap="round"/>
<line x1="160.7" y1="645.1" x2="171.5" y2="645.1" stroke="#FF8800" stroke-width="2.8" stroke-linecap="round"/>
<rect x="146.5" y="639.55" width="11.1" height="11.1" fill="#FF8800"/>
<g transform="translate(180.3 651.2) scale(1 1.04)"><text font-size="19.1" text-anchor="start">Charge</text></g>
<path d="M160.3 533.5 L160.3 550.9 L106.96 550.9" fill="none" stroke="#FF8800" stroke-width="2.4" stroke-linejoin="round" stroke-linecap="round"/>
<path d="M96 550.9 L109.7 546.4 L109.7 555.4 Z" fill="#FF8800" stroke="#FF8800" stroke-width="0.8" stroke-linejoin="round"/>
<path d="M913.5 436 L913.5 452.8 L969.04 452.8" fill="none" stroke="#00508F" stroke-width="2.4" stroke-linejoin="round" stroke-linecap="round"/>
<path d="M980 452.8 L966.3 448.3 L966.3 457.3 Z" fill="#00508F" stroke="#00508F" stroke-width="0.8" stroke-linejoin="round"/>
</g>
<g>
<clipPath id="cpd"><rect x="85.6" y="780" width="904.4" height="300"/></clipPath>
<g clip-path="url(#cpd)">
<polyline points="94.64,910.5 103.69,911.6 112.73,912.2 121.78,910.5 130.82,911.1 139.86,911.1 148.91,912.2 157.95,912.2 167,912.2 176.04,912.2 185.08,912.2 194.13,912 203.17,911.4 212.22,912.2 221.26,912.9 230.3,912.7 239.35,911.8 248.39,911.8 257.44,911.8 266.48,911.4 275.52,911.4 284.57,911.4 293.61,910 302.66,910 311.7,911.8 320.74,905.3 329.79,909.4 338.83,909.4 347.88,911.2 356.92,911.2 365.96,911.2 375.01,912.6 384.05,910.2 393.1,906.4 402.14,908.5 411.18,909.2 420.23,910.2 429.27,911 438.32,911.85 447.36,912.7 456.4,913.08 465.45,913.45 474.49,913.83 483.54,914.2 492.58,914.53 501.62,914.87 510.67,915.2 519.71,915.26 528.76,915.33 537.8,915.39 546.84,915.45 555.89,915.51 564.93,915.58 573.98,915.64 583.02,915.7 592.06,915.72 601.11,915.73 610.15,915.75 619.2,915.77 628.24,915.78 637.28,915.8 646.33,915.2 655.37,915.2 664.42,915.2 673.46,915.2 682.5,915.2 691.55,915.2 700.59,913.2 709.64,915 718.68,915.05 727.72,915.1 736.77,915.15 745.81,915.2 754.86,918.2 763.9,916.7 772.94,915.7 781.99,915.7 791.03,915.7 800.08,915.7 809.12,915.7 818.16,915.7 827.21,915.7 836.25,915.7 845.3,912.6 854.34,915.2 863.38,915.2 872.43,915.2 881.47,915.2 890.52,915.2 899.56,915.2 908.6,915.2 917.65,915.2 926.69,911.5 935.74,917.2 944.78,914.7 953.82,913.2 962.87,914.7 971.91,914.7 980.96,916.6 990,916.6" fill="none" stroke="#008000" stroke-width="2"/>
<path fill="#008000" d="M89.14 905h11v11h-11zM98.19 906.1h11v11h-11zM107.23 906.7h11v11h-11zM116.28 905h11v11h-11zM125.32 905.6h11v11h-11zM134.36 905.6h11v11h-11zM143.41 906.7h11v11h-11zM152.45 906.7h11v11h-11zM161.5 906.7h11v11h-11zM170.54 906.7h11v11h-11zM179.58 906.7h11v11h-11zM188.63 906.5h11v11h-11zM197.67 905.9h11v11h-11zM206.72 906.7h11v11h-11zM215.76 907.4h11v11h-11zM224.8 907.2h11v11h-11zM233.85 906.3h11v11h-11zM242.89 906.3h11v11h-11zM251.94 906.3h11v11h-11zM260.98 905.9h11v11h-11zM270.02 905.9h11v11h-11zM279.07 905.9h11v11h-11zM288.11 904.5h11v11h-11zM297.16 904.5h11v11h-11zM306.2 906.3h11v11h-11zM315.24 899.8h11v11h-11zM324.29 903.9h11v11h-11zM333.33 903.9h11v11h-11zM342.38 905.7h11v11h-11zM351.42 905.7h11v11h-11zM360.46 905.7h11v11h-11zM369.51 907.1h11v11h-11zM378.55 904.7h11v11h-11zM387.6 900.9h11v11h-11zM396.64 903h11v11h-11zM405.68 903.7h11v11h-11zM414.73 904.7h11v11h-11zM423.77 905.5h11v11h-11zM432.82 906.35h11v11h-11zM441.86 907.2h11v11h-11zM450.9 907.58h11v11h-11zM459.95 907.95h11v11h-11zM468.99 908.33h11v11h-11zM478.04 908.7h11v11h-11zM487.08 909.03h11v11h-11zM496.12 909.37h11v11h-11zM505.17 909.7h11v11h-11zM514.21 909.76h11v11h-11zM523.26 909.83h11v11h-11zM532.3 909.89h11v11h-11zM541.34 909.95h11v11h-11zM550.39 910.01h11v11h-11zM559.43 910.08h11v11h-11zM568.48 910.14h11v11h-11zM577.52 910.2h11v11h-11zM586.56 910.22h11v11h-11zM595.61 910.23h11v11h-11zM604.65 910.25h11v11h-11zM613.7 910.27h11v11h-11zM622.74 910.28h11v11h-11zM631.78 910.3h11v11h-11zM640.83 909.7h11v11h-11zM649.87 909.7h11v11h-11zM658.92 909.7h11v11h-11zM667.96 909.7h11v11h-11zM677 909.7h11v11h-11zM686.05 909.7h11v11h-11zM695.09 907.7h11v11h-11zM704.14 909.5h11v11h-11zM713.18 909.55h11v11h-11zM722.22 909.6h11v11h-11zM731.27 909.65h11v11h-11zM740.31 909.7h11v11h-11zM749.36 912.7h11v11h-11zM758.4 911.2h11v11h-11zM767.44 910.2h11v11h-11zM776.49 910.2h11v11h-11zM785.53 910.2h11v11h-11zM794.58 910.2h11v11h-11zM803.62 910.2h11v11h-11zM812.66 910.2h11v11h-11zM821.71 910.2h11v11h-11zM830.75 910.2h11v11h-11zM839.8 907.1h11v11h-11zM848.84 909.7h11v11h-11zM857.88 909.7h11v11h-11zM866.93 909.7h11v11h-11zM875.97 909.7h11v11h-11zM885.02 909.7h11v11h-11zM894.06 909.7h11v11h-11zM903.1 909.7h11v11h-11zM912.15 909.7h11v11h-11zM921.19 906h11v11h-11zM930.24 911.7h11v11h-11zM939.28 909.2h11v11h-11zM948.32 907.7h11v11h-11zM957.37 909.2h11v11h-11zM966.41 909.2h11v11h-11zM975.46 911.1h11v11h-11zM984.5 911.1h11v11h-11z"/>
<polyline points="94.64,909.3 103.69,910.4 112.73,911 121.78,909.3 130.82,909.9 139.86,909.9 148.91,911 157.95,911 167,911 176.04,911 185.08,911 194.13,910.8 203.17,910.2 212.22,911 221.26,911.7 230.3,911.5 239.35,910.6 248.39,910.6 257.44,910.6 266.48,910.2 275.52,910.2 284.57,910.2 293.61,908.8 302.66,908.8 311.7,910.6 320.74,907.1 329.79,908.2 338.83,908.2 347.88,910 356.92,910 365.96,910 375.01,911.4 384.05,909 393.1,903.2 402.14,907.3 411.18,908 420.23,909 429.27,909.8 438.32,910.65 447.36,911.5 456.4,911.88 465.45,912.25 474.49,912.62 483.54,913 492.58,913.33 501.62,913.67 510.67,914 519.71,914.06 528.76,914.12 537.8,914.19 546.84,914.25 555.89,914.31 564.93,914.38 573.98,914.44 583.02,914.5 592.06,914.52 601.11,914.53 610.15,914.55 619.2,914.57 628.24,914.58 637.28,914.6 646.33,914 655.37,914 664.42,914 673.46,914 682.5,914 691.55,914 700.59,909 709.64,913.8 718.68,913.85 727.72,913.9 736.77,913.95 745.81,914 754.86,915.5 763.9,915.5 772.94,914.5 781.99,914.5 791.03,914.5 800.08,914.5 809.12,914.5 818.16,914.5 827.21,914.5 836.25,914.5 845.3,911.4 854.34,914 863.38,914 872.43,914 881.47,914 890.52,914 899.56,914 908.6,914 917.65,914 926.69,918.3 935.74,916 944.78,913.5 953.82,912 962.87,913.5 971.91,913.5 980.96,915.4 990,915.4" fill="none" stroke="#FF8800" stroke-width="2"/>
<path fill="#FF8800" d="M89.14 903.8h11v11h-11zM98.19 904.9h11v11h-11zM107.23 905.5h11v11h-11zM116.28 903.8h11v11h-11zM125.32 904.4h11v11h-11zM134.36 904.4h11v11h-11zM143.41 905.5h11v11h-11zM152.45 905.5h11v11h-11zM161.5 905.5h11v11h-11zM170.54 905.5h11v11h-11zM179.58 905.5h11v11h-11zM188.63 905.3h11v11h-11zM197.67 904.7h11v11h-11zM206.72 905.5h11v11h-11zM215.76 906.2h11v11h-11zM224.8 906h11v11h-11zM233.85 905.1h11v11h-11zM242.89 905.1h11v11h-11zM251.94 905.1h11v11h-11zM260.98 904.7h11v11h-11zM270.02 904.7h11v11h-11zM279.07 904.7h11v11h-11zM288.11 903.3h11v11h-11zM297.16 903.3h11v11h-11zM306.2 905.1h11v11h-11zM315.24 901.6h11v11h-11zM324.29 902.7h11v11h-11zM333.33 902.7h11v11h-11zM342.38 904.5h11v11h-11zM351.42 904.5h11v11h-11zM360.46 904.5h11v11h-11zM369.51 905.9h11v11h-11zM378.55 903.5h11v11h-11zM387.6 897.7h11v11h-11zM396.64 901.8h11v11h-11zM405.68 902.5h11v11h-11zM414.73 903.5h11v11h-11zM423.77 904.3h11v11h-11zM432.82 905.15h11v11h-11zM441.86 906h11v11h-11zM450.9 906.38h11v11h-11zM459.95 906.75h11v11h-11zM468.99 907.12h11v11h-11zM478.04 907.5h11v11h-11zM487.08 907.83h11v11h-11zM496.12 908.17h11v11h-11zM505.17 908.5h11v11h-11zM514.21 908.56h11v11h-11zM523.26 908.62h11v11h-11zM532.3 908.69h11v11h-11zM541.34 908.75h11v11h-11zM550.39 908.81h11v11h-11zM559.43 908.88h11v11h-11zM568.48 908.94h11v11h-11zM577.52 909h11v11h-11zM586.56 909.02h11v11h-11zM595.61 909.03h11v11h-11zM604.65 909.05h11v11h-11zM613.7 909.07h11v11h-11zM622.74 909.08h11v11h-11zM631.78 909.1h11v11h-11zM640.83 908.5h11v11h-11zM649.87 908.5h11v11h-11zM658.92 908.5h11v11h-11zM667.96 908.5h11v11h-11zM677 908.5h11v11h-11zM686.05 908.5h11v11h-11zM695.09 903.5h11v11h-11zM704.14 908.3h11v11h-11zM713.18 908.35h11v11h-11zM722.22 908.4h11v11h-11zM731.27 908.45h11v11h-11zM740.31 908.5h11v11h-11zM749.36 910h11v11h-11zM758.4 910h11v11h-11zM767.44 909h11v11h-11zM776.49 909h11v11h-11zM785.53 909h11v11h-11zM794.58 909h11v11h-11zM803.62 909h11v11h-11zM812.66 909h11v11h-11zM821.71 909h11v11h-11zM830.75 909h11v11h-11zM839.8 905.9h11v11h-11zM848.84 908.5h11v11h-11zM857.88 908.5h11v11h-11zM866.93 908.5h11v11h-11zM875.97 908.5h11v11h-11zM885.02 908.5h11v11h-11zM894.06 908.5h11v11h-11zM903.1 908.5h11v11h-11zM912.15 908.5h11v11h-11zM921.19 912.8h11v11h-11zM930.24 910.5h11v11h-11zM939.28 908h11v11h-11zM948.32 906.5h11v11h-11zM957.37 908h11v11h-11zM966.41 908h11v11h-11zM975.46 909.9h11v11h-11zM984.5 909.9h11v11h-11z"/>
<polyline points="94.64,806.1 103.69,808.7 112.73,807 121.78,806.6 130.82,806.8 139.86,808.1 148.91,809.1 157.95,808.1 167,807.5 176.04,807.2 185.08,807 194.13,806.8 203.17,806.8 212.22,807.5 221.26,809.3 230.3,808.1 239.35,807.5 248.39,807 257.44,806.5 266.48,806.8 275.52,806.8 284.57,806.5 293.61,806 302.66,805.3 311.7,808.5 320.74,812.2 329.79,808.5 338.83,805.6 347.88,806.6 356.92,806.8 365.96,808.1 375.01,809.1 384.05,806.8 393.1,805.2 402.14,806.5 411.18,807 420.23,807.15 429.27,807.3 438.32,807.45 447.36,807.6 456.4,807.62 465.45,807.64 474.49,807.66 483.54,807.68 492.58,807.7 501.62,807.66 510.67,807.62 519.71,807.58 528.76,807.54 537.8,807.5 546.84,807.52 555.89,807.54 564.93,807.56 573.98,807.58 583.02,807.6 592.06,807.62 601.11,807.64 610.15,807.66 619.2,807.68 628.24,807.7 637.28,807.45 646.33,807.2 655.37,807.2 664.42,807.2 673.46,807.2 682.5,806 691.55,807 700.59,804.5 709.64,808.4 718.68,808.7 727.72,808.7 736.77,808.7 745.81,808.7 754.86,808.3 763.9,807 772.94,807.5 781.99,808.2 791.03,808.9 800.08,808 809.12,807.7 818.16,807 827.21,807.7 836.25,808 845.3,808.7 854.34,808.7 863.38,808 872.43,807 881.47,806 890.52,806.7 899.56,807.6 908.6,809.6 917.65,808.7 926.69,814.5 935.74,810 944.78,807.2 953.82,808.3 962.87,809.3 971.91,809.4 980.96,810.8 990,810.8" fill="none" stroke="#006BB0" stroke-width="2"/>
<path fill="#006BB0" d="M89.14 800.6h11v11h-11zM98.19 803.2h11v11h-11zM107.23 801.5h11v11h-11zM116.28 801.1h11v11h-11zM125.32 801.3h11v11h-11zM134.36 802.6h11v11h-11zM143.41 803.6h11v11h-11zM152.45 802.6h11v11h-11zM161.5 802h11v11h-11zM170.54 801.7h11v11h-11zM179.58 801.5h11v11h-11zM188.63 801.3h11v11h-11zM197.67 801.3h11v11h-11zM206.72 802h11v11h-11zM215.76 803.8h11v11h-11zM224.8 802.6h11v11h-11zM233.85 802h11v11h-11zM242.89 801.5h11v11h-11zM251.94 801h11v11h-11zM260.98 801.3h11v11h-11zM270.02 801.3h11v11h-11zM279.07 801h11v11h-11zM288.11 800.5h11v11h-11zM297.16 799.8h11v11h-11zM306.2 803h11v11h-11zM315.24 806.7h11v11h-11zM324.29 803h11v11h-11zM333.33 800.1h11v11h-11zM342.38 801.1h11v11h-11zM351.42 801.3h11v11h-11zM360.46 802.6h11v11h-11zM369.51 803.6h11v11h-11zM378.55 801.3h11v11h-11zM387.6 799.7h11v11h-11zM396.64 801h11v11h-11zM405.68 801.5h11v11h-11zM414.73 801.65h11v11h-11zM423.77 801.8h11v11h-11zM432.82 801.95h11v11h-11zM441.86 802.1h11v11h-11zM450.9 802.12h11v11h-11zM459.95 802.14h11v11h-11zM468.99 802.16h11v11h-11zM478.04 802.18h11v11h-11zM487.08 802.2h11v11h-11zM496.12 802.16h11v11h-11zM505.17 802.12h11v11h-11zM514.21 802.08h11v11h-11zM523.26 802.04h11v11h-11zM532.3 802h11v11h-11zM541.34 802.02h11v11h-11zM550.39 802.04h11v11h-11zM559.43 802.06h11v11h-11zM568.48 802.08h11v11h-11zM577.52 802.1h11v11h-11zM586.56 802.12h11v11h-11zM595.61 802.14h11v11h-11zM604.65 802.16h11v11h-11zM613.7 802.18h11v11h-11zM622.74 802.2h11v11h-11zM631.78 801.95h11v11h-11zM640.83 801.7h11v11h-11zM649.87 801.7h11v11h-11zM658.92 801.7h11v11h-11zM667.96 801.7h11v11h-11zM677 800.5h11v11h-11zM686.05 801.5h11v11h-11zM695.09 799h11v11h-11zM704.14 802.9h11v11h-11zM713.18 803.2h11v11h-11zM722.22 803.2h11v11h-11zM731.27 803.2h11v11h-11zM740.31 803.2h11v11h-11zM749.36 802.8h11v11h-11zM758.4 801.5h11v11h-11zM767.44 802h11v11h-11zM776.49 802.7h11v11h-11zM785.53 803.4h11v11h-11zM794.58 802.5h11v11h-11zM803.62 802.2h11v11h-11zM812.66 801.5h11v11h-11zM821.71 802.2h11v11h-11zM830.75 802.5h11v11h-11zM839.8 803.2h11v11h-11zM848.84 803.2h11v11h-11zM857.88 802.5h11v11h-11zM866.93 801.5h11v11h-11zM875.97 800.5h11v11h-11zM885.02 801.2h11v11h-11zM894.06 802.1h11v11h-11zM903.1 804.1h11v11h-11zM912.15 803.2h11v11h-11zM921.19 809h11v11h-11zM930.24 804.5h11v11h-11zM939.28 801.7h11v11h-11zM948.32 802.8h11v11h-11zM957.37 803.8h11v11h-11zM966.41 803.9h11v11h-11zM975.46 805.3h11v11h-11zM984.5 805.3h11v11h-11z"/>
</g>
<rect x="85.6" y="790.2" width="904.4" height="285.9" fill="none" stroke="#000" stroke-width="2.1"/>
<line x1="85.6" y1="1076.1" x2="85.6" y2="1086.1" stroke="#000" stroke-width="1.9" stroke-linecap="butt"/>
<g transform="translate(85.6 1109.4) scale(1 1.04)"><text font-size="20" text-anchor="middle">0</text></g>
<line x1="176.04" y1="1076.1" x2="176.04" y2="1081.1" stroke="#000" stroke-width="1.9" stroke-linecap="butt"/>
<line x1="266.48" y1="1076.1" x2="266.48" y2="1086.1" stroke="#000" stroke-width="1.9" stroke-linecap="butt"/>
<g transform="translate(266.48 1109.4) scale(1 1.04)"><text font-size="20" text-anchor="middle">20</text></g>
<line x1="356.92" y1="1076.1" x2="356.92" y2="1081.1" stroke="#000" stroke-width="1.9" stroke-linecap="butt"/>
<line x1="447.36" y1="1076.1" x2="447.36" y2="1086.1" stroke="#000" stroke-width="1.9" stroke-linecap="butt"/>
<g transform="translate(447.36 1109.4) scale(1 1.04)"><text font-size="20" text-anchor="middle">40</text></g>
<line x1="537.8" y1="1076.1" x2="537.8" y2="1081.1" stroke="#000" stroke-width="1.9" stroke-linecap="butt"/>
<line x1="628.24" y1="1076.1" x2="628.24" y2="1086.1" stroke="#000" stroke-width="1.9" stroke-linecap="butt"/>
<g transform="translate(628.24 1109.4) scale(1 1.04)"><text font-size="20" text-anchor="middle">60</text></g>
<line x1="718.68" y1="1076.1" x2="718.68" y2="1081.1" stroke="#000" stroke-width="1.9" stroke-linecap="butt"/>
<line x1="809.12" y1="1076.1" x2="809.12" y2="1086.1" stroke="#000" stroke-width="1.9" stroke-linecap="butt"/>
<g transform="translate(809.12 1109.4) scale(1 1.04)"><text font-size="20" text-anchor="middle">80</text></g>
<line x1="899.56" y1="1076.1" x2="899.56" y2="1081.1" stroke="#000" stroke-width="1.9" stroke-linecap="butt"/>
<line x1="990" y1="1076.1" x2="990" y2="1086.1" stroke="#000" stroke-width="1.9" stroke-linecap="butt"/>
<g transform="translate(990 1109.4) scale(1 1.04)"><text font-size="20" text-anchor="middle">100</text><g fill="#fff"><rect x="-16.01" y="-2.49" width="3.91" height="3.19"/><rect x="-9.43" y="-2.49" width="3.85" height="3.19"/></g></g>
<line x1="85.6" y1="1076.1" x2="75.2" y2="1076.1" stroke="#000" stroke-width="1.9" stroke-linecap="butt"/>
<g transform="translate(68.2 1082.1) scale(1 1.04)"><text font-size="20" text-anchor="end">0</text></g>
<line x1="85.6" y1="1040.36" x2="80.6" y2="1040.36" stroke="#000" stroke-width="1.9" stroke-linecap="butt"/>
<line x1="85.6" y1="1004.62" x2="75.2" y2="1004.62" stroke="#000" stroke-width="1.9" stroke-linecap="butt"/>
<g transform="translate(68.2 1010.62) scale(1 1.04)"><text font-size="20" text-anchor="end">50</text></g>
<line x1="85.6" y1="968.89" x2="80.6" y2="968.89" stroke="#000" stroke-width="1.9" stroke-linecap="butt"/>
<line x1="85.6" y1="933.15" x2="75.2" y2="933.15" stroke="#000" stroke-width="1.9" stroke-linecap="butt"/>
<g transform="translate(68.2 939.15) scale(1 1.04)"><text font-size="20" text-anchor="end">100</text><g fill="#fff"><rect x="-32.69" y="-2.49" width="3.91" height="3.19"/><rect x="-26.11" y="-2.49" width="3.85" height="3.19"/></g></g>
<line x1="85.6" y1="897.41" x2="80.6" y2="897.41" stroke="#000" stroke-width="1.9" stroke-linecap="butt"/>
<line x1="85.6" y1="861.67" x2="75.2" y2="861.67" stroke="#000" stroke-width="1.9" stroke-linecap="butt"/>
<g transform="translate(68.2 867.67) scale(1 1.04)"><text font-size="20" text-anchor="end">150</text><g fill="#fff"><rect x="-32.69" y="-2.49" width="3.91" height="3.19"/><rect x="-26.11" y="-2.49" width="3.85" height="3.19"/></g></g>
<line x1="85.6" y1="825.94" x2="80.6" y2="825.94" stroke="#000" stroke-width="1.9" stroke-linecap="butt"/>
<line x1="85.6" y1="790.2" x2="75.2" y2="790.2" stroke="#000" stroke-width="1.9" stroke-linecap="butt"/>
<g transform="translate(68.2 796.2) scale(1 1.04)"><text font-size="20" text-anchor="end">200</text></g>
<line x1="990" y1="1076.1" x2="999.6" y2="1076.1" stroke="#000" stroke-width="1.9" stroke-linecap="butt"/>
<g transform="translate(1006.8 1081.8) scale(1 1.04)"><text font-size="20" text-anchor="start">0</text></g>
<line x1="990" y1="1049.38" x2="995" y2="1049.38" stroke="#000" stroke-width="1.9" stroke-linecap="butt"/>
<line x1="990" y1="1022.66" x2="999.6" y2="1022.66" stroke="#000" stroke-width="1.9" stroke-linecap="butt"/>
<g transform="translate(1006.8 1028.36) scale(1 1.04)"><text font-size="20" text-anchor="start">20</text></g>
<line x1="990" y1="995.94" x2="995" y2="995.94" stroke="#000" stroke-width="1.9" stroke-linecap="butt"/>
<line x1="990" y1="969.22" x2="999.6" y2="969.22" stroke="#000" stroke-width="1.9" stroke-linecap="butt"/>
<g transform="translate(1006.8 974.92) scale(1 1.04)"><text font-size="20" text-anchor="start">40</text></g>
<line x1="990" y1="942.5" x2="995" y2="942.5" stroke="#000" stroke-width="1.9" stroke-linecap="butt"/>
<line x1="990" y1="915.78" x2="999.6" y2="915.78" stroke="#000" stroke-width="1.9" stroke-linecap="butt"/>
<g transform="translate(1006.8 921.48) scale(1 1.04)"><text font-size="20" text-anchor="start">60</text></g>
<line x1="990" y1="889.06" x2="995" y2="889.06" stroke="#000" stroke-width="1.9" stroke-linecap="butt"/>
<line x1="990" y1="862.34" x2="999.6" y2="862.34" stroke="#000" stroke-width="1.9" stroke-linecap="butt"/>
<g transform="translate(1006.8 868.04) scale(1 1.04)"><text font-size="20" text-anchor="start">80</text></g>
<line x1="990" y1="835.62" x2="995" y2="835.62" stroke="#000" stroke-width="1.9" stroke-linecap="butt"/>
<line x1="990" y1="808.9" x2="999.6" y2="808.9" stroke="#000" stroke-width="1.9" stroke-linecap="butt"/>
<g transform="translate(1006.8 814.6) scale(1 1.04)"><text font-size="20" text-anchor="start">100</text><g fill="#fff"><rect x="0.67" y="-2.49" width="3.91" height="3.19"/><rect x="7.25" y="-2.49" width="3.85" height="3.19"/></g></g>
<g transform="translate(20 933) rotate(-90) scale(1 1.04)"><text font-size="19.4" text-anchor="middle">Capacity (mAh g<tspan font-size="13.6" dy="-7.3">-1</tspan><tspan dy="7.3">)</tspan></text><g fill="#fff"><rect x="67.14" y="-9.32" width="2.74" height="2.72"/><rect x="71.98" y="-9.32" width="2.72" height="2.72"/></g></g>
<g transform="translate(1069 925.5) rotate(-90) scale(1 1.04)"><text font-size="19.6" text-anchor="middle">Coulombic efficiency (%)</text></g>
<g transform="translate(537.8 1147.4) scale(1 1.04)"><text font-size="19.4" text-anchor="middle">Cycle number</text></g>
<g transform="translate(6.95 801.9) scale(1 1)"><text font-size="41" text-anchor="start" font-weight="bold">d</text></g>
<g transform="translate(436.6 1054.9) scale(1 1.04)"><text font-size="19.6" text-anchor="start">mass loading: 17 mg cm<tspan font-size="13.7" dy="-7.4">-2</tspan></text><g fill="#fff"><rect x="126.93" y="-2.46" width="3.84" height="3.16"/><rect x="133.4" y="-2.46" width="3.78" height="3.16"/></g></g>
<line x1="142.1" y1="1003.6" x2="153.2" y2="1003.6" stroke="#008000" stroke-width="2.8" stroke-linecap="round"/>
<line x1="170.2" y1="1003.6" x2="181" y2="1003.6" stroke="#008000" stroke-width="2.8" stroke-linecap="round"/>
<rect x="156" y="998.05" width="11.1" height="11.1" fill="#008000"/>
<g transform="translate(189.8 1009.7) scale(1 1.04)"><text font-size="19.1" text-anchor="start">Discharge</text></g>
<line x1="142.1" y1="1027.6" x2="153.2" y2="1027.6" stroke="#FF8800" stroke-width="2.8" stroke-linecap="round"/>
<line x1="170.2" y1="1027.6" x2="181" y2="1027.6" stroke="#FF8800" stroke-width="2.8" stroke-linecap="round"/>
<rect x="156" y="1022.05" width="11.1" height="11.1" fill="#FF8800"/>
<g transform="translate(189.8 1033.7) scale(1 1.04)"><text font-size="19.1" text-anchor="start">Charge</text></g>
<path d="M160.3 921 L160.3 937.5 L106.96 937.5" fill="none" stroke="#FF8800" stroke-width="2.4" stroke-linejoin="round" stroke-linecap="round"/>
<path d="M96 937.5 L109.7 933 L109.7 942 Z" fill="#FF8800" stroke="#FF8800" stroke-width="0.8" stroke-linejoin="round"/>
<path d="M912.1 820.9 L912.1 837.5 L967.74 837.5" fill="none" stroke="#00508F" stroke-width="2.4" stroke-linejoin="round" stroke-linecap="round"/>
<path d="M978.7 837.5 L965 833 L965 842 Z" fill="#00508F" stroke="#00508F" stroke-width="0.8" stroke-linejoin="round"/>
</g>
</svg></body></html>
